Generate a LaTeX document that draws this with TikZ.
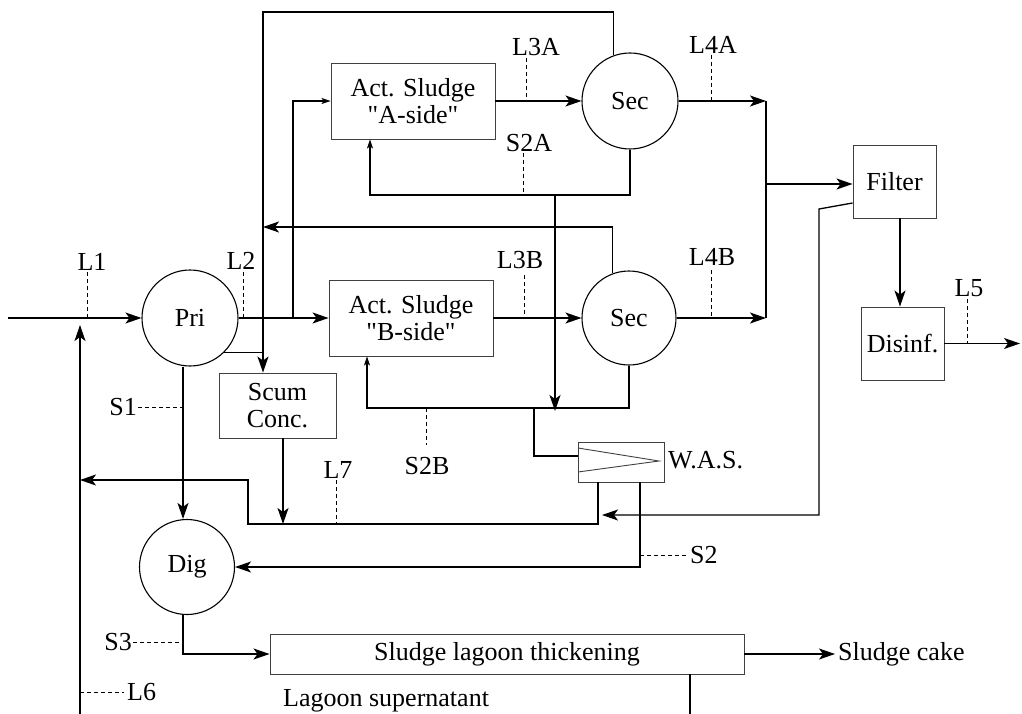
\documentclass[tikz,border=0pt]{standalone}
\usepackage{fontspec}
\setmainfont{Liberation Serif}[Ligatures=TeXOff]
\usetikzlibrary{arrows.meta,calc}
\begin{document}
\begin{tikzpicture}[x=1pt,y=-1pt,
  every node/.style={font=\fontsize{26}{27}\selectfont},
  unit/.style={draw=black!75, line width=0.9pt, inner sep=0pt, align=center},
  tank/.style={circle, draw, line width=1.1pt, minimum size=96pt, inner sep=0pt},
  flow/.style={line width=1.3pt},
  arr/.style={flow, -{Stealth[length=16pt,width=11pt,inset=4pt]}},
  sarr/.style={flow, -{Stealth[length=9pt,width=6pt,inset=2pt]}},
  tap/.style={line width=1pt, dash pattern=on 4pt off 3pt},
  lbl/.style={inner sep=0pt}]
\useasboundingbox (0,0) rectangle (1022,714);
% units
\node[tank] (pri) at (190,318) {Pri};
\node[unit, minimum width=164pt, minimum height=76pt] (actA) at (413,101) {Act. Sludge\\"A-side"};
\node[tank] (secA) at (630,101) {Sec};
\node[unit, minimum width=164pt, minimum height=76pt] (actB) at (411,318) {Act. Sludge\\"B-side"};
\node[tank, minimum size=94pt] (secB) at (629,318) {Sec};
\node[unit, minimum width=83pt, minimum height=73pt] (filter) at (894.5,181.5) {Filter};
\node[unit, minimum width=83pt, minimum height=73pt] (disinf) at (902.5,343.5) {Disinf.};
\node[unit, minimum width=117pt, minimum height=65pt] (scum) at (277.5,405.5) {Scum\\Conc.};
\node[unit, minimum width=86pt, minimum height=40pt] (was) at (621,462) {};
\node[tank, minimum size=95pt] (dig) at (187,567) {Dig};
\node[unit, minimum width=474pt, minimum height=40pt] (lagoon) at (507,654) {Sludge lagoon thickening};
\node[anchor=west, inner sep=3pt] (cake) at (835,654) {Sludge cake};
\node[lbl, anchor=base west] (sup) at (283,706) {Lagoon supernatant};
\node[lbl, anchor=west] (wasl) at (668,460) {W.A.S.};
% WAS symbol
\draw[draw=black!75, line width=0.9pt] (578,448) -- (659,461) -- (578,472);
% coordinates
\coordinate (in) at (8,318);
\coordinate (jA) at (293,318);
\coordinate (m1) at (766,101);
\coordinate (m2) at (766,318);
\coordinate (mf) at (766,184);
\coordinate (topL) at (263,12);
\coordinate (midL) at (263,227);
\coordinate (rA) at (370,195);
\coordinate (dA) at (555,195);
\coordinate (dB) at (555,411);
\coordinate (rB) at (367,408);
\coordinate (sB) at (534,408);
\coordinate (w1) at (598,524);
\coordinate (w2) at (248,524);
\coordinate (w3) at (248,480);
\coordinate (w4) at (80,480);
\coordinate (f1) at (819,209);
\coordinate (f2) at (819,515);
\coordinate (f3) at (602,515);
\coordinate (sc) at (283,524);
\coordinate (w5) at (640,567);
\coordinate (pd) at (183,0);
\coordinate (fd) at (900,0);
\coordinate (out5) at (1020,343.5);
\coordinate (lv) at (690,714);
\coordinate (l6a) at (80,714);
\coordinate (l6b) at (80,325);
% main flows
\draw[arr] (in) -- (pri);
\draw[arr] (pri) -- (actB);
\draw[sarr] (jA) |- (actA.west);
\draw[arr] (actA) -- (secA);
\draw[arr] (actB) -- (secB);
\draw[arr] (secA) -- (m1);
\draw[arr] (secB) -- (m2);
\draw[flow] (m1) -- (m2);
\draw[arr] (mf) -- (mf -| filter.west);
\draw[arr] (filter.south -| fd) -- (disinf.north -| fd);
\draw[arr] (disinf) -- (out5);
% recycle loops
\draw[arr] (secA.110) |- (topL) -- (topL |- scum.north);
\draw[arr] (secB.110) |- (midL);
\draw[flow] (pri.-45) -- (pri.-45 -| topL);
\draw[sarr] (secA.south) |- (rA) -- (rA |- actA.south);
\draw[arr] (dA) -- (dB);
\draw[sarr] (secB.south) |- (rB) -- (rB |- actB.south);
\draw[flow] (sB) |- ([yshift=6pt]was.west);
% WAS & sidestreams
\draw[arr] (was.south -| w1) -- (w1) -- (w2) -- (w3) -- (w4);
\draw[arr] ([yshift=-21.5pt]filter.west) -- (f1) -- (f2) -- (f3);
\draw[arr] (scum.south -| sc) -- (sc);
\draw[arr] (was.south -| w5) -- (w5) -- (dig);
\draw[arr] (pri.south -| pd) -- (dig.north -| pd);
\draw[arr] (dig.south -| pd) |- (lagoon.west);
\draw[arr] (lagoon) -- (cake);
\draw[flow] (lagoon.south -| lv) -- (lv);
\draw[arr] (l6a) -- (l6b);
% sampling taps
\draw[tap] (87,272) -- (87,318);   \node[lbl] (tL1) at (92,262) {L1};
\draw[tap] (243,272) -- (243,318); \node[lbl] (tL2) at (241,261) {L2};
\draw[tap] (526,58) -- (526,101);  \node[lbl] (tL3A) at (536,47) {L3A};
\draw[tap] (711,55) -- (711,101);  \node[lbl] (tL4A) at (713,45) {L4A};
\draw[tap] (523,153) -- (523,195); \node[lbl] (tS2A) at (529,143) {S2A};
\draw[tap] (524,275) -- (524,318); \node[lbl] (tL3B) at (520,260) {L3B};
\draw[tap] (711,270) -- (711,318); \node[lbl] (tL4B) at (712,257) {L4B};
\draw[tap] (426,408) -- (426,445); \node[lbl] (tS2B) at (427,466) {S2B};
\draw[tap] (967,299) -- (967,343.5); \node[lbl] (tL5) at (969,288) {L5};
\draw[tap] (336,480) -- (336,524); \node[lbl] (tL7) at (338,470) {L7};
\draw[tap] (138,407) -- (183,407); \node[lbl, anchor=east] (tS1) at (137,407) {S1};
\draw[tap] (133,642) -- (183,642); \node[lbl, anchor=east] (tS3) at (132,642) {S3};
\draw[tap] (640,555) -- (686,555); \node[lbl, anchor=west] (tS2) at (690,555) {S2};
\draw[tap] (80,692) -- (124,692);  \node[lbl, anchor=west] (tL6) at (127,692) {L6};
\end{tikzpicture}
\end{document}
